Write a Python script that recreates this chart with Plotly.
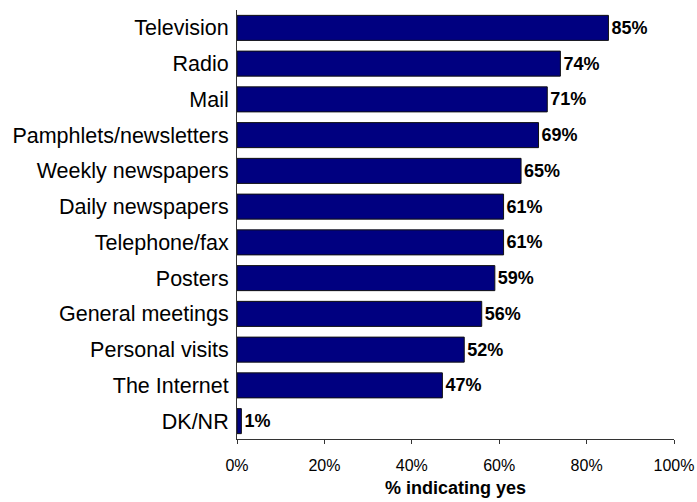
import plotly.graph_objects as go

# Share of respondents indicating "yes" for each information channel
channels = [
    "Television", "Radio", "Mail", "Pamphlets/newsletters", "Weekly newspapers",
    "Daily newspapers", "Telephone/fax", "Posters", "General meetings",
    "Personal visits", "The Internet", "DK/NR",
]
pct_yes = [85, 74, 71, 69, 65, 61, 61, 59, 56, 52, 47, 1]

x_ticks = [0, 20, 40, 60, 80, 100]
x_tick_labels = ["0%", "20%", "40%", "60%", "80%", "100%"]

FONT = "Liberation Sans, Arial, sans-serif"

fig = go.Figure(
    go.Bar(
        x=pct_yes,
        y=channels,
        orientation="h",
        marker=dict(color="#000080", line=dict(color="#111111", width=1)),
        text=[f"{v}%" for v in pct_yes],
        textposition="outside",
        cliponaxis=False,
        textfont=dict(family=FONT, size=18, color="black", weight="bold"),
    )
)

fig.update_layout(
    width=697,
    height=502,
    margin=dict(l=237, r=23, t=10, b=63),
    paper_bgcolor="white",
    plot_bgcolor="white",
    bargap=0.3,
    showlegend=False,
    font=dict(family=FONT, color="black"),
)

fig.update_xaxes(
    range=[0, 100],
    tickvals=x_ticks,
    ticktext=x_tick_labels,
    tickfont=dict(size=16),
    ticks="outside",
    ticklen=4,
    tickcolor="#333333",
    ticklabelstandoff=8,
    showline=True,
    linecolor="#333333",
    linewidth=1,
    showgrid=False,
    zeroline=False,
    automargin=False,
    title=dict(text="<b>% indicating yes</b>", font=dict(size=18), standoff=8),
)

fig.update_yaxes(
    categoryorder="array",
    categoryarray=channels[::-1],
    tickfont=dict(family=FONT, size=21.5),
    showline=True,
    linecolor="#333333",
    linewidth=1,
    showgrid=False,
    ticks="",
    ticklabelstandoff=3,
    automargin=False,
)

fig.write_html("out.html")
